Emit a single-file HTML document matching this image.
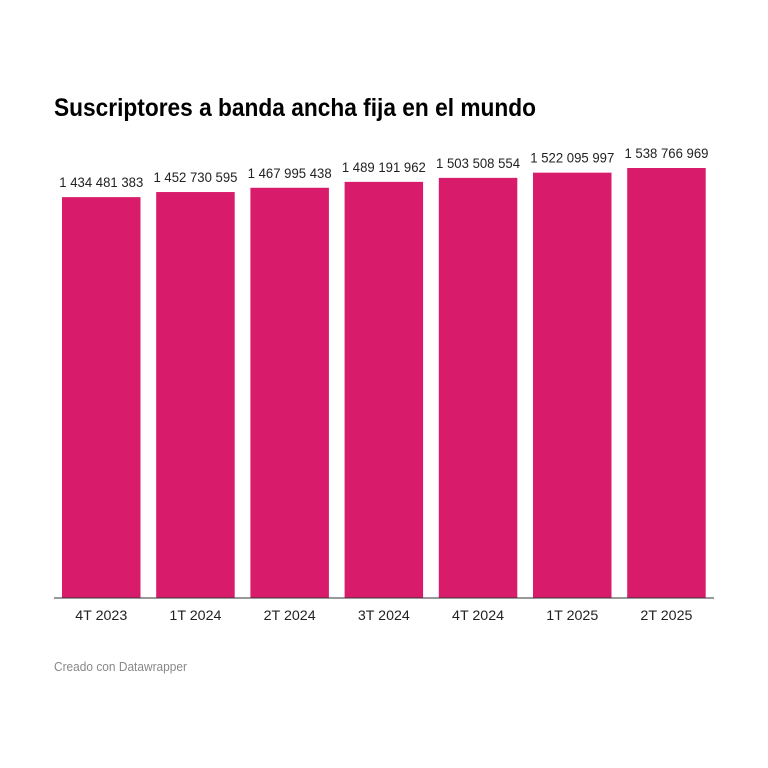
<!DOCTYPE html>
<html><head><meta charset="utf-8"><style>
html,body{margin:0;padding:0;background:#fff;width:768px;height:768px;overflow:hidden;font-family:"Liberation Sans",sans-serif}
</style></head><body>
<svg id="chart" width="768" height="768" xmlns="http://www.w3.org/2000/svg">
<text x="54" y="116" font-size="25" font-weight="bold" fill="#000" textLength="482" lengthAdjust="spacingAndGlyphs">Suscriptores a banda ancha fija en el mundo</text>
<g id="bars"></g>
<line x1="54" x2="714" y1="598" y2="598" stroke="#333" stroke-width="1"/>
<text x="54" y="671" font-size="12.5" fill="#888" textLength="133" lengthAdjust="spacingAndGlyphs">Creado con Datawrapper</text>
</svg>
<script>
const categories=["4T 2023","1T 2024","2T 2024","3T 2024","4T 2024","1T 2025","2T 2025"];
const values=[1434481383,1452730595,1467995438,1489191962,1503508554,1522095997,1538766969];
const valueLabels=["1 434 481 383","1 452 730 595","1 467 995 438","1 489 191 962","1 503 508 554","1 522 095 997","1 538 766 969"];
const NS="http://www.w3.org/2000/svg";
const baseY=598, pxPerUnit=430/1538766969;
const x0=62, step=94.2, bw=78.5;
function yScale(v){return baseY - v*pxPerUnit;}
function xScale(i){return x0+i*step;}
const g=document.getElementById('bars');
values.forEach((v,i)=>{
  const r=document.createElementNS(NS,'rect');
  
  
  r.setAttribute('x',xScale(i));r.setAttribute('y',yScale(v));
  r.setAttribute('width',bw);r.setAttribute('height',baseY-yScale(v));
  r.setAttribute('fill','#d81b6a');
  g.appendChild(r);
  const t=document.createElementNS(NS,'text');
  
  
  t.setAttribute('x',xScale(i)+bw/2);t.setAttribute('y',yScale(v)-10);
  t.setAttribute('text-anchor','middle');t.setAttribute('font-size','14');
  t.setAttribute('textLength','84');t.setAttribute('lengthAdjust','spacingAndGlyphs');
  t.setAttribute('fill','#222');t.textContent=valueLabels[i];
  g.appendChild(t);
  const c=document.createElementNS(NS,'text');
  
  
  c.setAttribute('x',xScale(i)+bw/2);c.setAttribute('y',620);
  c.setAttribute('text-anchor','middle');c.setAttribute('font-size','14');
  c.setAttribute('textLength','52');c.setAttribute('lengthAdjust','spacingAndGlyphs');
  c.setAttribute('fill','#222');c.textContent=categories[i];
  g.appendChild(c);
});
</script>
</body></html>
